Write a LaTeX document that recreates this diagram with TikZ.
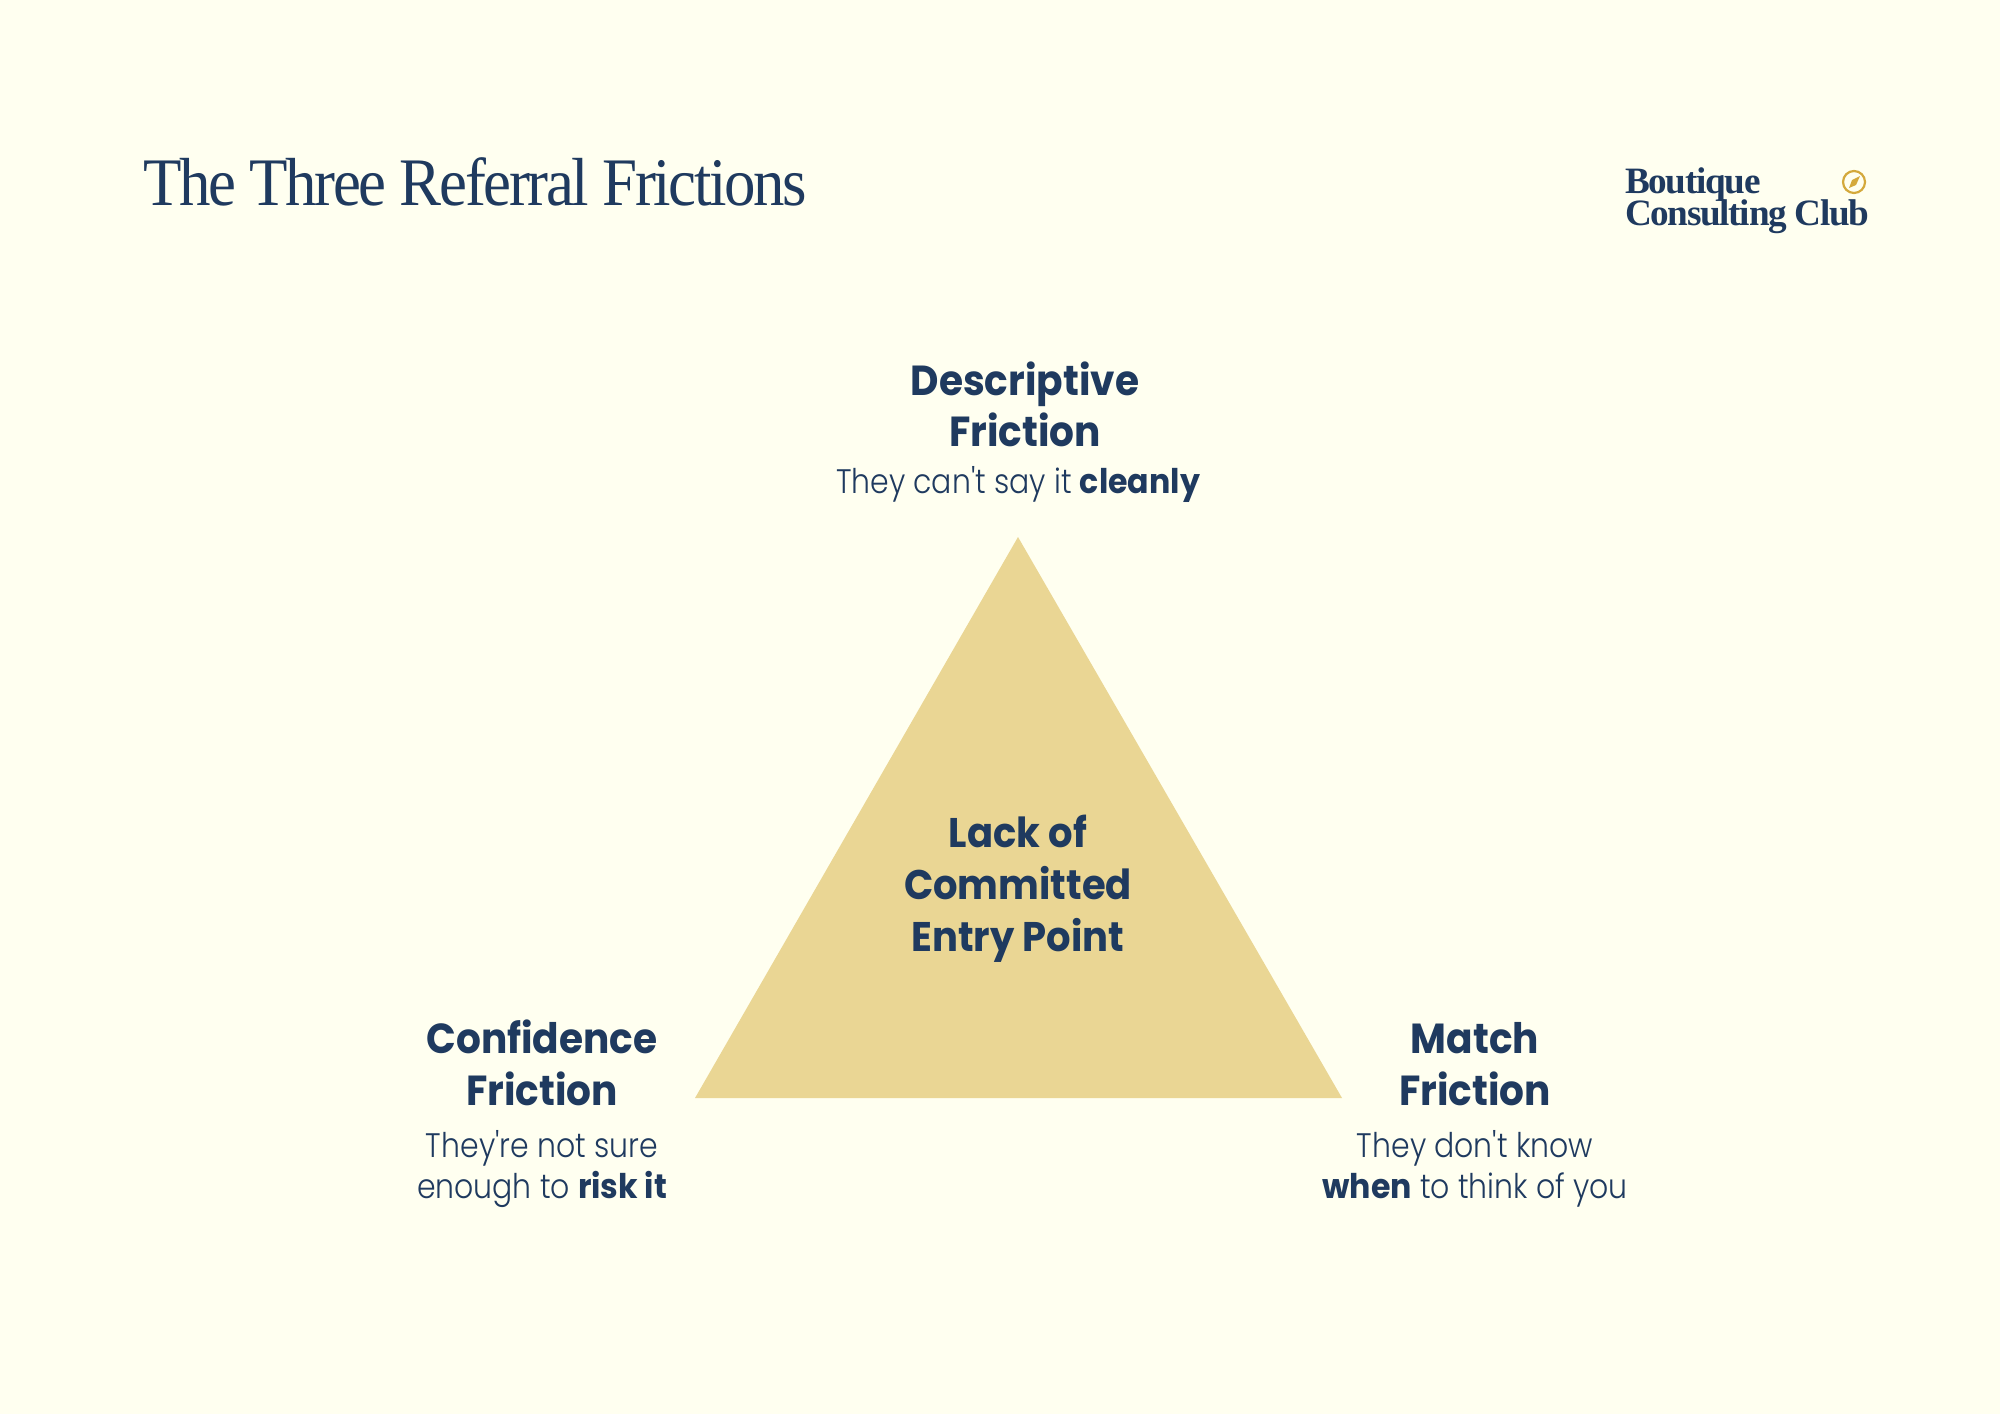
\documentclass[tikz,border=0pt]{standalone}
\usepackage{fontspec}
\setmainfont{Liberation Serif}
\newfontfamily\headfont[FakeStretch=0.93]{Poppins Bold}
\newfontfamily\subfont[FakeStretch=0.88]{Poppins Light}
\newfontfamily\subbold[FakeStretch=0.93]{Poppins Bold}
\newfontfamily\titlefont[LetterSpace=-3.5,FakeStretch=0.925]{Liberation Serif}
\newfontfamily\logofont[LetterSpace=-3.5]{Liberation Serif}
\definecolor{bgc}{HTML}{FFFFF0}
\definecolor{navy}{HTML}{1F3A5F}
\definecolor{sand}{HTML}{EAD694}
\definecolor{gold}{HTML}{D4A93C}
\newcommand{\bld}[1]{{\subbold #1}}
\tikzset{
  x=0.5pt,y=-0.5pt,
  txt/.style={anchor=base,inner sep=0pt,outer sep=0pt,text=navy},
  head/.style={txt,font=\headfont\fontsize{21}{21}\selectfont},
  core/.style={txt,font=\headfont\fontsize{20.7}{20.7}\selectfont},
  sub/.style={txt,font=\subfont\fontsize{17}{17}\selectfont},
  logo/.style={txt,anchor=base west,font=\logofont\bfseries\fontsize{18.6}{18.6}\selectfont},
  tri/.style={fill=sand,draw=none},
}
\begin{document}
\begin{tikzpicture}
\fill[bgc] (0,0) rectangle (2000,1414);
\useasboundingbox (0,0) rectangle (2000,1414);
\node[txt,anchor=base west,font=\titlefont\fontsize{34}{34}\selectfont] (title) at (143,205) {The Three Referral Frictions};
\node[logo] (logoa) at (1625,193.5) {Boutique};
\node[logo] (logob) at (1625,225.5) {Consulting Club};
\coordinate (cmp) at (1854,182);
\draw[gold,line width=1.1pt] (cmp) circle[radius=11];
\fill[gold] (1860,176) -- (1856,185) -- (1849,188) -- (1852,180) -- cycle;
\fill[tri] (1018,537) -- (695,1098) -- (1342,1098) -- cycle;
\node[head] (d1) at (1025,395) {Descriptive};
\node[head] (d2) at (1025,446) {Friction};
\node[sub] (d3) at (1018,493) {They can't say it \bld{cleanly}};
\node[core] (c1) at (1018,847) {Lack of};
\node[core] (c2) at (1018,899) {Committed};
\node[core] (c3) at (1018,951) {Entry Point};
\node[head] (l1) at (542,1053) {Confidence};
\node[head] (l2) at (542,1105) {Friction};
\node[sub] (l3) at (542,1157) {They're not sure};
\node[sub] (l4) at (542,1198) {enough to \bld{risk it}};
\node[head] (r1) at (1475,1053) {Match};
\node[head] (r2) at (1475,1105) {Friction};
\node[sub] (r3) at (1475,1157) {They don't know};
\node[sub] (r4) at (1475,1198) {\bld{when} to think of you};
\end{tikzpicture}
\end{document}
